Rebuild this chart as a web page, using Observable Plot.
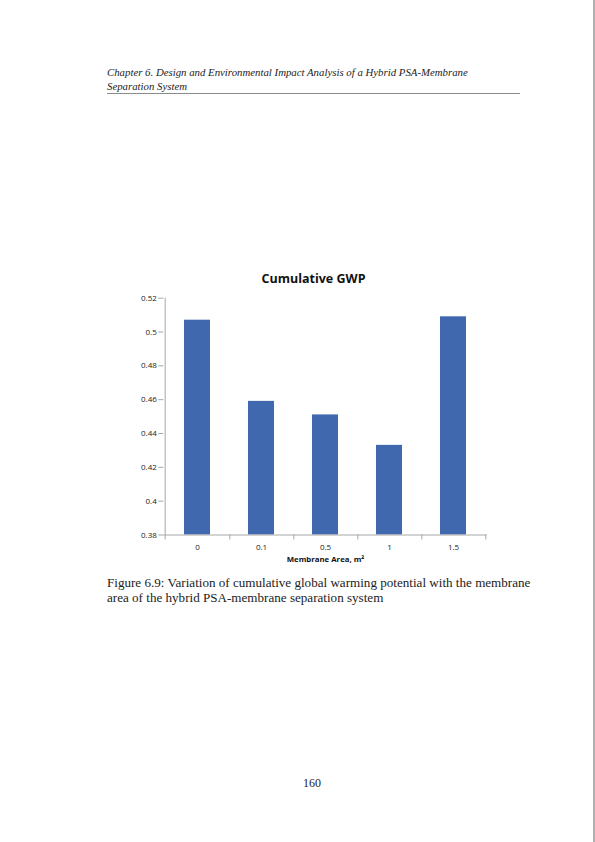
<!DOCTYPE html>
<html>
<head>
<meta charset="utf-8">
<script src="https://cdn.jsdelivr.net/npm/d3@7"></script>
<script src="https://cdn.jsdelivr.net/npm/@observablehq/plot@0.6"></script>
<style>
  html, body { margin: 0; padding: 0; background: #fff; }
  #page { position: relative; width: 595px; height: 842px; overflow: hidden; background: #fff; }
  #edge { position: absolute; left: 593px; top: 0; width: 2px; height: 842px; background: #b0b0b0; }
  .hdr { position: absolute; left: 107px; font-family: "Liberation Serif", serif; font-style: italic; font-size: 10.8px; color: #222; white-space: nowrap; }
  #rule { position: absolute; left: 107px; top: 93px; width: 413px; height: 1.3px; background: #8a8a8a; }
  #title { position: absolute; left: 0; width: 627px; top: 270px; text-align: center; font-family: "Open Sans", sans-serif; font-weight: bold; font-size: 12.5px; color: #111; }
  #chart { position: absolute; left: 110px; top: 288px; }
  .cap { position: absolute; left: 107px; font-family: "Liberation Serif", serif; font-size: 13.1px; color: #222; white-space: nowrap; }
  #pageno { position: absolute; left: 303px; top: 776px; font-family: "Liberation Serif", serif; font-size: 12px; color: #222; }
</style>
</head>
<body>
<div id="page">
  <div id="edge"></div>
  <div class="hdr" style="top:66px">Chapter 6. Design and Environmental Impact Analysis of a Hybrid PSA-Membrane</div>
  <div class="hdr" style="top:80px">Separation System</div>
  <div id="rule"></div>
  <div id="title">Cumulative GWP</div>
  <div id="chart"></div>
  <div class="cap" style="top:575px">Figure 6.9: Variation of cumulative global warming potential with the membrane</div>
  <div class="cap" style="top:590px">area of the hybrid PSA-membrane separation system</div>
  <div id="pageno">160</div>
</div>
<script>
const categories = ["0", "0.1", "0.5", "1", "1.5"];
const gwpValues = [0.507, 0.459, 0.451, 0.433, 0.509];
const yTicks = [0.38, 0.40, 0.42, 0.44, 0.46, 0.48, 0.50, 0.52];

const data = categories.map((c, i) => ({area: c, gwp: gwpValues[i]}));

const W = 390, H = 290, mL = 53.3, mR = 13.3, mT = 9.7, mB = 43.5;
const step = (W - mL - mR) / categories.length;
const axisColor = "#a6a6a6";
const font = "'Open Sans', sans-serif";

const chart = Plot.plot({
  width: W,
  height: H,
  marginLeft: mL,
  marginRight: mR,
  marginTop: mT,
  marginBottom: mB,
  style: {fontFamily: font, fontSize: "8px", color: "#222", background: "transparent"},
  x: {domain: categories, paddingInner: 0.6, paddingOuter: 0.3, label: null},
  y: {domain: [0.38, 0.52], label: null},
  marks: [
    Plot.barY(data, {x: "area", y1: 0.38, y2: "gwp", fill: "#4068ae"}),
    Plot.ruleY([0.38], {stroke: axisColor, strokeWidth: 1}),
    Plot.ruleX([categories[0]], {y1: 0.38, y2: 0.52, dx: -step / 2, stroke: axisColor, strokeWidth: 1}),
    Plot.ruleX(categories, {y1: 0.38, y2: 0.38, insetBottom: -5, dx: step / 2, stroke: axisColor, strokeWidth: 1}),
    Plot.ruleX([categories[0]], {y1: 0.38, y2: 0.38, insetBottom: -5, dx: -step / 2, stroke: axisColor, strokeWidth: 1}),
    Plot.axisY({ticks: yTicks, tickSize: 5, tickPadding: 2, stroke: axisColor, fontSize: 8, tickFormat: d => String(+d.toFixed(2)), label: null}),
    Plot.axisX({tickSize: 0, tickPadding: 9, fontSize: 8, label: null}),
    Plot.text(["Membrane Area, m²"], {frameAnchor: "bottom", dy: 27, fontWeight: "bold", fontSize: 7.8, fill: "#111"})
  ]
});
document.getElementById("chart").appendChild(chart);
</script>
</body>
</html>
